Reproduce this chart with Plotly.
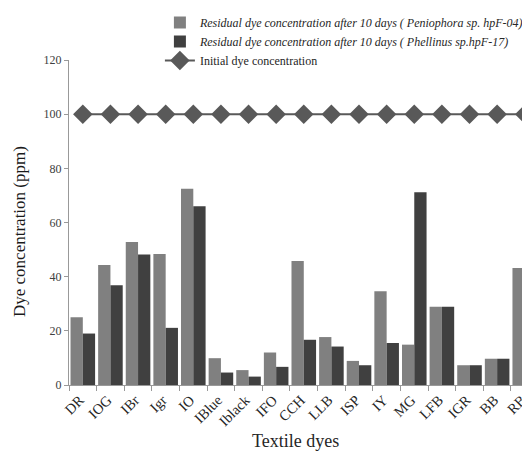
import plotly.graph_objects as go

dyes = ["DR", "IOG", "IBr", "Igr", "IO", "IBlue", "Iblack", "IFO", "CCH", "LLB",
        "ISP", "IY", "MG", "LFB", "IGR", "BB", "RB"]
peniophora = [25, 44.3, 52.8, 48.4, 72.5, 9.9, 5.5, 12.0, 45.8, 17.7,
              8.9, 34.6, 14.9, 28.9, 7.3, 9.7, 43.2]
phellinus = [19, 36.8, 48.2, 21.1, 66, 4.6, 3.1, 6.7, 16.7, 14.2,
             7.3, 15.5, 71.2, 28.9, 7.3, 9.7, 43.2]
initial = [100] * 17

name1 = "<i>Residual dye concentration after 10 days ( Peniophora sp. hpF-04)</i>"
name2 = "<i>Residual dye concentration after 10 days ( Phellinus sp.hpF-17)</i>"
name3 = "Initial dye concentration"
x_title = "Textile dyes"
y_title = "Dye concentration (ppm)"

serif = "Liberation Serif, Times New Roman, serif"

fig = go.Figure()
fig.add_trace(go.Bar(x=dyes, y=peniophora, name=name1, marker_color="#808080",
                     marker_line_width=0))
fig.add_trace(go.Bar(x=dyes, y=phellinus, name=name2, marker_color="#404040",
                     marker_line_width=0))
fig.add_trace(go.Scatter(x=dyes, y=initial, name=name3, mode="lines+markers",
                         line=dict(color="#595959", width=2),
                         marker=dict(symbol="diamond", size=15, color="#595959")))

fig.update_layout(
    width=522, height=448,
    margin=dict(l=61, r=0, t=52, b=71, autoexpand=False),
    paper_bgcolor="white", plot_bgcolor="white",
    barmode="group", bargap=0.11, bargroupgap=0,
    font=dict(family=serif, color="#404040", size=12),
    legend=dict(xref="container", yref="container", x=0.291, y=1.016,
                xanchor="left", yanchor="top",
                font=dict(size=12, color="#262626"), tracegroupgap=0,
                bgcolor="rgba(0,0,0,0)"),
    xaxis=dict(range=[-0.5, 16.19], tickson="boundaries", ticks="outside",
               ticklen=5, tickcolor="#999999", showline=True, linecolor="#999999",
               linewidth=1, tickangle=-45, tickfont=dict(size=14.5, color="#262626"),
               ticklabelshift=-3,
               automargin=False, showgrid=False),
    yaxis=dict(range=[0, 120], dtick=20, ticks="outside", ticklen=4,
               tickcolor="#999999", showline=True, linecolor="#999999", linewidth=1,
               tickfont=dict(size=12, color="#404040"), showgrid=False, zeroline=False,
               automargin=False),
    annotations=[
        dict(text=x_title, xref="paper", yref="paper", x=(295 - 69) / 461,
             y=-(441 - 385) / 325, xanchor="center", yanchor="middle",
             showarrow=False, font=dict(size=18, color="#262626")),
        dict(text=y_title, xref="paper", yref="paper", x=-(69 - 20) / 461,
             y=(385 - 232) / 325, xanchor="center", yanchor="middle",
             textangle=-90, showarrow=False, font=dict(size=17, color="#1a1a1a")),
    ],
)

fig.write_html("out.html")
